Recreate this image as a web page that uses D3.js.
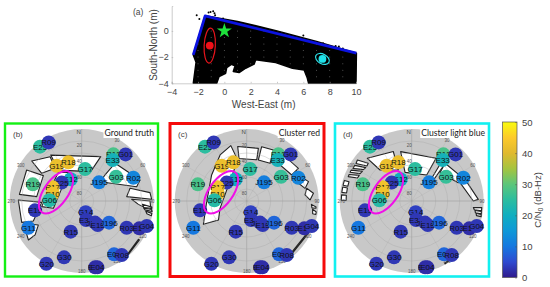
<!DOCTYPE html>
<html>
  <head>
    <script src="https://cdn.jsdelivr.net/npm/d3@7"></script>
    <style>
      body { margin: 0; background: #fff; }
      svg { display: block; }
      text { font-family: "Liberation Sans", Arial, sans-serif; }
    </style>
  </head>
  <body>
    <script>
      // panel (a): map, metres
      const cloudOutline = [[-2.36,-1.83],[-1.46,1.15],[1,0.72],[4,0],[7,-0.8],[10.03,-1.7],[10,-4],[6.4,-4],[6.3,-3.6],[6.06,-2.98],[5.17,-2.85],[3.9,-2.42],[2.38,-2.2],[2.26,-2.54],[1.62,-2.85],[1.12,-3.18],[0.68,-3.1],[0.81,-2.67],[0.53,-2.55],[0.18,-2.8],[0.1,-3.23],[-0.4,-3.49],[-0.58,-4],[-2.36,-4],[-2.15,-2.4]];
      const wallLine = [[-2.36,-1.83],[-1.46,1.15],[10.03,-1.7]];
      const strayPoints = [[-2.1,1.2],[-1.9,0.9],[-1.05,1.45],[-0.85,1.5],[-0.7,1.2],[-0.75,1.35],[-1.2,1.4],[6,-0.36],[8.45,-1.15],[8.7,-1.2],[9,-1.35],[7.5,-0.95],[-0.1,0.95],[-0.9,-3.9]];
      const gridX = [-2,-1,0,1,2,3,4,5,6,7,8,9];
      const gridY = [-3.5,-3,-2.5,-2,-1.5,-1,-0.5,0];
      const truthPoint = [0, 0];
      const redCluster = [-1.11, -1.12];
      const blueCluster = [7.45, -2.14];

      // sky plot satellites
      const satNames = ["E25","R09","G19","R18","G17","E12","E25","R17","E10","G06","R19","E19","G11","J195","R12","E33","G01","G03","R02","G14","E31","J198","E13","J196","R03","E11","G04","R15","G30","G20","E03","R08","B04","E04"];
      const satAz = [322.5,330.6,324.7,341,6,333.1,312.5,295.2,284.2,271.2,288.8,258.7,243.4,42.9,34.2,37.1,43.3,54.7,65.7,160.6,167,148.4,146.3,128.4,120.7,115.4,111,199.7,197.4,209.4,148.8,143.5,168.6,166.7];
      const satEl = [4.4,5.9,35.9,38.9,49.8,59.6,56,49.9,52.6,49.6,25.4,30.5,15.4,58.2,19.5,25.8,10,37.4,19.2,75,65.6,58.3,54,46.4,24.6,10.3,2.9,49.3,16.2,0,12,6,5.4,4.8];
      const satCn0 = [25,3,42,42,25,20,3,43,43,24,28,3,10,11,28,21,3,26,12,4,3,3,3,8,3,2,3,3,3,3,8,3,2,2];

      // visible sky per panel, [azimuth, elevation] corners
      const skyTruth = [
        [[326,20.8],[23.2,29.6],[17,51.6],[323,41.6]],
        [[308.7,10],[324.5,22],[320.8,37.3],[304.7,29.2]],
        [[299.4,11],[303.5,32.5],[275.5,33.5],[276.1,11.7]],
        [[270.9,10.8],[268,40],[247.5,24.6],[250.4,10.4]],
        [[249,12],[241,28],[234,18],[233.8,7.5]],
        [[320.9,43.8],[335,50.5],[255.5,53.5],[262,39.5]],
        [[41.5,27],[70.2,12.5],[75.4,19],[43.5,56.7],[41.9,46.3]],
        [[75.3,27.5],[83,4],[88.6,2.5],[84.5,33.5]],
        [[88,27.5],[90,4.6],[98,2.5],[93.4,19]],
        [[93,14],[95,2],[96,2],[96,12]],
        [[96.5,12],[97,2],[98.5,1],[98,10]],
        [[99,9],[100,1],[102,1],[101,7]],
        [[124,3],[140,1],[140,2],[124,4.5]]
      ];
      const skyRed = [
        [[350.6,21],[12.5,22.6],[13.7,37],[349.8,36]],
        [[15.4,19.6],[27.6,18],[31.8,34.6],[15.9,36.7]],
        [[36.3,16],[57.7,13.6],[60,25],[40,28.5]],
        [[63.3,17.7],[72.6,9],[77.8,15.4],[68.9,23]],
        [[78,13.4],[83.4,6],[89,10.8],[84,16.7]],
        [[93,9],[95,3],[96,3],[96,8]],
        [[97,7],[99,2],[101,2],[101,6]],
        [[344,18],[347.6,37.6],[254.6,55.4],[236,47.4],[241.7,28.5],[269,40],[306.6,35.4],[330,23.5]],
        [[118,3],[145,1],[145,2.5],[118,4.5]]
      ];
      const skyBlue = [
        [[347.4,26.8],[29.7,28.6],[30,52.5],[346.9,53.3]],
        [[313.9,13],[339.6,24],[336.7,47.8],[314.4,34.6]],
        [[307,5],[311,18],[308,19],[304,6]],
        [[302,6],[306,19],[303,18],[299,6]],
        [[297,5],[301,18],[298,17],[295,5]],
        [[293,5],[296,17],[293,16.4],[291,5]],
        [[283,2],[287,2],[287,8],[283,8]],
        [[277,2],[281.5,2],[281.5,8],[277,8]],
        [[270.5,2],[275,2],[275,8],[270.5,8]],
        [[41.5,27],[66.3,19.5],[68.6,27.5],[45,40]],
        [[67.9,18],[88.6,6.7],[90,13],[69.2,25.4]],
        [[37.7,32],[42.5,56],[46.9,54.6],[42.1,31]],
        [[96,12.5],[95.4,2],[98,2],[98,11]],
        [[98.5,10],[98.5,2],[100.5,1.5],[100.5,9]],
        [[101,8],[101,1.5],[102.7,1],[102.7,7]],
        [[139,2],[152,1],[152,2],[139,3.5]]
      ];

      const elevRings = [15,30,45,60,75];
      const elevLabels = [20,40,60,80];
      const azSpokes = [30,60,90,120,150,180,210,240,270,300,330,360];
      const azLabels = [30,60,90,120,150,180,240,270,300];
      const cbarTicks = [0,10,20,30,40,50];
      const parula = ["#2f1a8c","#2f4ad0","#1578e0","#0f98d8","#10aec0","#2cbd9f","#5cc67a","#a5c43f","#e0b92f","#fdca2b","#f9fb0e"];

      const svg = d3.select("body").append("svg").attr("width", 550).attr("height", 287);
      const ink = "#444";

      // ---- panel (a)
      const x = d3.scaleLinear().domain([-4, 10]).range([171.7, 356]);
      const y = d3.scaleLinear().domain([-4, 1.9]).range([83.3, 6]);
      const line = d3.line().x(d => x(d[0])).y(d => y(d[1]));

      svg.append("path").attr("d", line(cloudOutline) + "Z")
        .attr("fill", "#000").attr("stroke", "#000").attr("stroke-width", 1.5).attr("stroke-linejoin", "round");
      gridX.forEach(gx => gridY.forEach(gy => {
        if (d3.polygonContains(cloudOutline, [gx, gy])) {
          svg.append("circle").attr("cx", x(gx)).attr("cy", y(gy)).attr("r", 0.5).attr("fill", "#666");
        }
      }));
      svg.selectAll(".stray").data(strayPoints).join("circle").attr("class", "stray")
        .attr("cx", d => x(d[0])).attr("cy", d => y(d[1])).attr("r", 1).attr("fill", "#000");
      svg.append("path").attr("d", line(wallLine)).attr("fill", "none")
        .attr("stroke", "#0b12e0").attr("stroke-width", 2.8).attr("stroke-linejoin", "round");

      const xAxis = svg.append("g").attr("transform", "translate(0,83.3)")
        .call(d3.axisBottom(x).tickValues([-4,-2,0,2,4,6,8,10]).tickSize(-1.5).tickPadding(5).tickFormat(d => String(d).replace("-", "\u2212")));
      const yAxis = svg.append("g").attr("transform", "translate(171.7,0)")
        .call(d3.axisLeft(y).tickValues([-4,-2,0]).tickSize(-1.5).tickPadding(3).tickFormat(d => String(d).replace("-", "\u2212")));
      [xAxis, yAxis].forEach(a => {
        a.selectAll("text").attr("font-size", 9).attr("fill", ink);
        a.selectAll("line,path").attr("stroke", "#aaa").attr("stroke-width", 0.6);
      });

      // red cluster
      svg.append("ellipse").attr("cx", x(redCluster[0])).attr("cy", y(redCluster[1]))
        .attr("rx", 5.6).attr("ry", 17.5).attr("transform", `rotate(3 ${x(redCluster[0])} ${y(redCluster[1])})`)
        .attr("fill", "none").attr("stroke", "#e8141c").attr("stroke-width", 1.2);
      svg.append("circle").attr("cx", x(redCluster[0])).attr("cy", y(redCluster[1])).attr("r", 3.9).attr("fill", "#f01018");
      // light blue cluster
      svg.append("ellipse").attr("cx", x(blueCluster[0])).attr("cy", y(blueCluster[1]))
        .attr("rx", 7.4).attr("ry", 4.8).attr("transform", `rotate(28 ${x(blueCluster[0])} ${y(blueCluster[1])})`)
        .attr("fill", "#000").attr("stroke", "#2ee6ee").attr("stroke-width", 1.2);
      svg.append("circle").attr("cx", x(blueCluster[0])).attr("cy", y(blueCluster[1])).attr("r", 3.9).attr("fill", "#1fe3ea");
      svg.append("path").attr("d", d3.symbol(d3.symbolStar, 70)())
        .attr("transform", `translate(${x(truthPoint[0])},${y(truthPoint[1])})`).attr("fill", "#1ee23c");

      svg.append("text").attr("x", 133).attr("y", 15).attr("font-size", 8.5).attr("fill", ink).text("(a)");
      svg.append("text").attr("x", 263.7).attr("y", 107.5).attr("text-anchor", "middle").attr("font-size", 10).attr("fill", ink).text("West-East (m)");
      svg.append("text").attr("transform", "translate(157,45) rotate(-90)").attr("text-anchor", "middle").attr("font-size", 10).attr("fill", ink).text("South-North (m)");

      // ---- sky plots
      const cnColor = d3.scaleLinear().domain(d3.range(parula.length).map(i => i * 50 / (parula.length - 1))).range(parula);
      const radius = d3.scaleLinear().domain([90, 0]).range([0, 72]);
      const toRad = d => d * Math.PI / 180;
      const skyLine = d3.lineRadial().angle(d => toRad(d[0])).radius(d => radius(Math.max(d[1], 0))).curve(d3.curveLinearClosed);
      const polar = (az, el) => [radius(el) * Math.sin(toRad(az)), -radius(el) * Math.cos(toRad(az))];

      function skyPlot(cx, boxX, boxW, boxColor, boxStroke, letter, title, sky) {
        svg.append("rect").attr("x", boxX).attr("y", 123.5).attr("width", boxW).attr("height", 153)
          .attr("fill", "#fff").attr("stroke", boxColor).attr("stroke-width", boxStroke);
        const g = svg.append("g").attr("transform", `translate(${cx},201)`);
        g.append("circle").attr("r", radius(0)).attr("fill", "#c8c8c8");
        g.selectAll(".mask").data(sky).join("path").attr("class", "mask")
          .attr("d", d => skyLine(d)).attr("fill", "#fff").attr("stroke", "#222").attr("stroke-width", 1.1).attr("stroke-linejoin", "round");
        g.selectAll(".ring").data(elevRings).join("circle").attr("class", "ring")
          .attr("r", d => radius(d)).attr("fill", "none").attr("stroke", "#a8a8a8").attr("stroke-width", 0.4);
        g.selectAll(".spoke").data(azSpokes).join("line").attr("class", "spoke")
          .attr("x2", d => polar(d, 0)[0]).attr("y2", d => polar(d, 0)[1])
          .attr("stroke", "#a0a0a0").attr("stroke-width", d => d % 90 == 0 ? 0.6 : 0.2);
        g.selectAll(".elev").data(elevLabels).join("text").attr("class", "elev")
          .attr("x", -2.5).attr("y", d => -radius(d) + 2).attr("text-anchor", "middle").attr("font-size", 4.5).attr("fill", "#555").text(d => d);
        g.selectAll(".azl").data(azLabels).join("text").attr("class", "azl")
          .attr("x", d => polar(d, 2)[0]).attr("y", d => polar(d, 2)[1] + 1.5).attr("text-anchor", "middle")
          .attr("font-size", 4.5).attr("fill", "#555").text(d => d);
        g.append("text").attr("x", -3).attr("y", -67).attr("text-anchor", "middle").attr("font-size", 6).attr("fill", ink).text("N");

        const sats = g.selectAll(".sat").data(satNames).join("g").attr("class", "sat")
          .attr("transform", (d, i) => `translate(${polar(satAz[i], satEl[i])})`);
        sats.append("circle").attr("r", 7).attr("fill", (d, i) => cnColor(satCn0[i]));
        sats.append("text").attr("y", 2.9).attr("text-anchor", "middle").attr("font-size", 8).attr("fill", "#111").text(d => d);

        // common area of interest
        g.append("ellipse").attr("cx", -25.7).attr("cy", -8.7).attr("rx", 24.5).attr("ry", 12)
          .attr("transform", "rotate(-55 -25.7 -8.7)").attr("fill", "none").attr("stroke", "#f010e8").attr("stroke-width", 2);

        const tg = svg.append("g");
        const t = tg.append("text").attr("x", boxX + boxW - 4).attr("y", 136).attr("text-anchor", "end")
          .style("font-family", "Lato").attr("font-size", 8.6).attr("fill", "#222").text(title);
        const b = t.node().getBBox();
        tg.insert("rect", "text").attr("x", b.x - 1).attr("y", b.y).attr("width", b.width + 2).attr("height", b.height).attr("fill", "#fff");
        svg.append("text").attr("x", boxX + 8).attr("y", 137).attr("font-size", 8).attr("fill", ink).text(letter);
      }

      skyPlot(81.7, 5, 153, "#14f014", 2.4, "(b)", "Ground truth", skyTruth);
      skyPlot(246.7, 170, 154, "#f50a0a", 3, "(c)", "Cluster red", skyRed);
      skyPlot(411.7, 335, 154, "#12f0f0", 2.6, "(d)", "Cluster light blue", skyBlue);

      // ---- colour bar
      const cbar = d3.scaleLinear().domain([0, 50]).range([277.5, 122]);
      const grad = svg.append("defs").append("linearGradient").attr("id", "parula")
        .attr("x1", "0%").attr("x2", "0%").attr("y1", "100%").attr("y2", "0%");
      parula.forEach((c, i) => grad.append("stop").attr("offset", `${i * 100 / (parula.length - 1)}%`).attr("stop-color", c));
      svg.append("rect").attr("x", 502.5).attr("y", 122).attr("width", 14.5).attr("height", 155.5)
        .attr("fill", "url(#parula)").attr("stroke", "#555").attr("stroke-width", 0.7);
      const cAxis = svg.append("g").attr("transform", "translate(517,0)")
        .call(d3.axisRight(cbar).tickValues(cbarTicks).tickSize(-2).tickPadding(5));
      cAxis.select(".domain").remove();
      cAxis.selectAll("line").attr("stroke", "#555").attr("stroke-width", 0.5);
      cAxis.selectAll("text").attr("font-size", 9.5).attr("fill", ink);
      const cLabel = svg.append("text").attr("transform", "translate(541,200) rotate(-90)").attr("text-anchor", "middle")
        .attr("font-size", 9.5).attr("fill", ink).text("C/N");
      cLabel.append("tspan").attr("font-size", 7).attr("dy", 2).text("0");
      cLabel.append("tspan").attr("dy", -2).text(" (dB-Hz)");
    </script>
  </body>
</html>
